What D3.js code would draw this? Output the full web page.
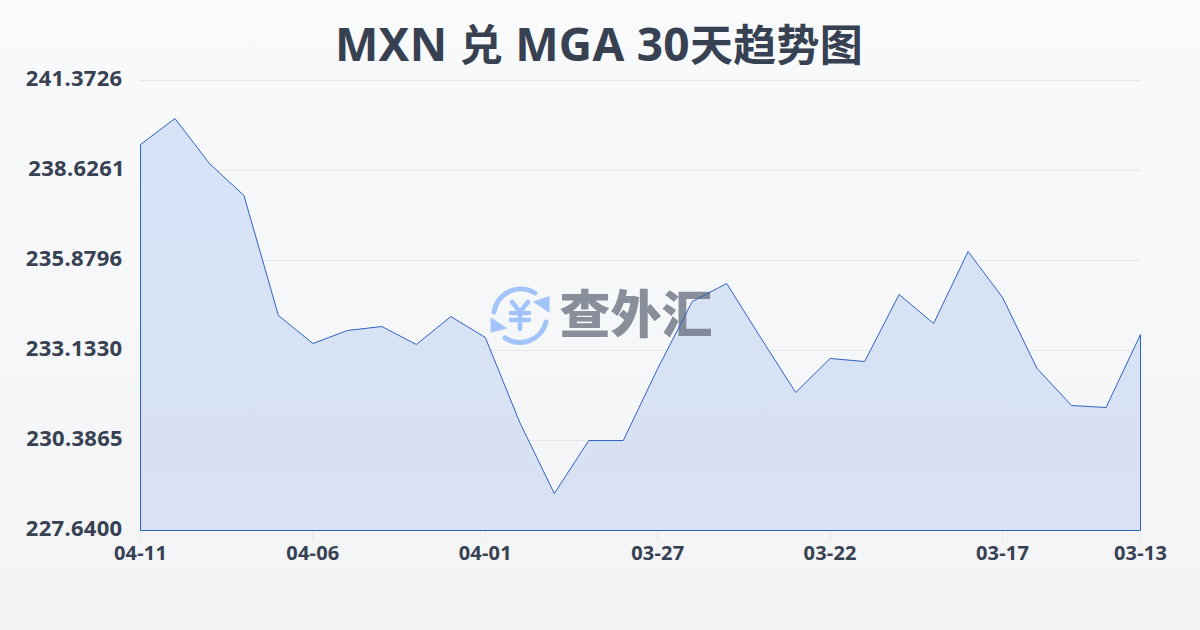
<!DOCTYPE html>
<html><head><meta charset="utf-8">
<script src="https://cdn.jsdelivr.net/npm/d3@7/dist/d3.min.js"></script>
<style>html,body{margin:0;padding:0;background:#f5f6f8}svg{display:block}text{font-family:"Noto Sans","Noto Sans CJK SC",sans-serif}</style>
</head><body><svg id="c" width="1200" height="630"></svg>
<script>
const titleParts=[["MXN ",46],["兑",43],[" MGA 30",46],["天趋势图",43]];
const dates=["04-11","04-10","04-09","04-08","04-07","04-06","04-05","04-04","04-03","04-02","04-01","03-31","03-30","03-29","03-28","03-27","03-26","03-25","03-24","03-23","03-22","03-21","03-20","03-19","03-18","03-17","03-16","03-15","03-14","03-13"];
const rates=[239.419,240.212,238.839,237.863,234.201,233.346,233.743,233.865,233.316,234.170,233.530,230.936,228.769,230.386,230.386,232.584,234.628,235.177,233.499,231.851,232.889,232.797,234.842,233.957,236.154,234.750,232.584,231.454,231.393,233.621];
const yTicks=[227.64,230.3865,233.133,235.8796,238.6261,241.3726];
const xTickDates=["04-11","04-06","04-01","03-27","03-22","03-17","03-13"];
const watermark="查外汇";

const svg=d3.select("#c");
const defs=svg.append("defs");
const bg=defs.append("linearGradient").attr("id","bg").attr("x1",0).attr("y1",0).attr("x2",0).attr("y2",1);
bg.append("stop").attr("offset","0%").attr("stop-color","#f9fafc");
bg.append("stop").attr("offset","100%").attr("stop-color","#f3f4f6");
const ag=defs.append("linearGradient").attr("id","ag").attr("x1",0).attr("y1",0).attr("x2",0).attr("y2",1);
ag.append("stop").attr("offset","0%").attr("stop-color","#d6e3f6");
ag.append("stop").attr("offset","100%").attr("stop-color","#d9e1f4");
svg.append("rect").attr("width",1200).attr("height",630).attr("fill","url(#bg)");

const x=d3.scalePoint().domain(dates).range([140.5,1140.5]);
const y=d3.scaleLinear().domain([227.64,241.3726]).range([530.5,80.5]);

svg.append("text").attr("x",599).attr("y",61).attr("text-anchor","middle")
  .attr("font-weight",700).attr("letter-spacing",0.28).attr("fill","#374151")
  .selectAll("tspan").data(titleParts).join("tspan").attr("font-size",d=>d[1]).attr("xml:space","preserve").style("white-space","pre").text(d=>d[0]);

svg.append("g").selectAll("line").data(yTicks).join("line")
  .attr("x1",140).attr("x2",1140).attr("y1",d=>y(d)).attr("y2",d=>y(d))
  .attr("stroke","#e5e7eb").attr("stroke-width",1);

const area=d3.area().x((d,i)=>x(dates[i])).y0(y(227.64)).y1(d=>y(d));
svg.append("path").datum(rates).attr("d",area).attr("fill","url(#ag)").attr("stroke","none");

// watermark
const wm=svg.append("g");
const logo=wm.append("g").attr("transform","translate(520,315)").attr("fill","none").attr("stroke","#a3c4fa").attr("stroke-linecap","round");
logo.append("path").attr("d","M-26,-3 A27,27 0 0 1 15,-22").attr("stroke-width",5);
logo.append("path").attr("d","M26,7 A27,27 0 0 1 -15,23").attr("stroke-width",5);
logo.append("path").attr("d","M29,-18 L29,-3 L14,-13 Z M-29,17 L-29,3 L-14,13 Z").attr("fill","#a3c4fa").attr("stroke","#a3c4fa").attr("stroke-width",1);
logo.append("path").attr("d","M-8,-13 L0,-3 L8,-13 M-9,-2 L9,-2 M-9,5 L9,5 M0,-3 L0,14").attr("stroke-width",4.5);
wm.append("text").attr("x",636).attr("y",333).attr("text-anchor","middle").attr("font-size",51).attr("font-weight",900)
  .attr("font-family","'Noto Sans CJK SC'").attr("fill","#6b7280").attr("opacity",0.78).text(watermark);

const line=d3.line().x((d,i)=>x(dates[i])).y(d=>y(d));
svg.append("path").attr("d",`M${x(dates[0])},${y(rates[0])}L${x(dates[0])},${y(227.64)}L${x(dates[29])},${y(227.64)}L${x(dates[29])},${y(rates[29])}`)
  .attr("fill","none").attr("stroke","#2f62c4").attr("stroke-width",1);
svg.append("path").datum(rates).attr("d",line).attr("fill","none").attr("stroke","#2f62c4").attr("stroke-width",1);

const fmt=d3.format(".4f");
svg.append("g").selectAll("text").data(yTicks).join("text")
  .attr("x",(d,i)=>i===4?125:i===1?123:122.5).attr("y",d=>y(d)+5.5).attr("text-anchor","end").attr("font-size",22).attr("font-weight",700).attr("letter-spacing",0.3).attr("fill","#374151").text(fmt);

svg.append("g").selectAll("line").data(xTickDates).join("line")
  .attr("x1",d=>x(d)).attr("x2",d=>x(d)).attr("y1",531).attr("y2",541).attr("stroke","#e5e7eb");
svg.append("g").selectAll("text").data(xTickDates).join("text")
  .attr("x",d=>x(d)).attr("y",560).attr("text-anchor","middle").attr("font-size",20).attr("font-weight",700).attr("letter-spacing",0.2).attr("fill","#374151").text(d=>d);
</script></body></html>
